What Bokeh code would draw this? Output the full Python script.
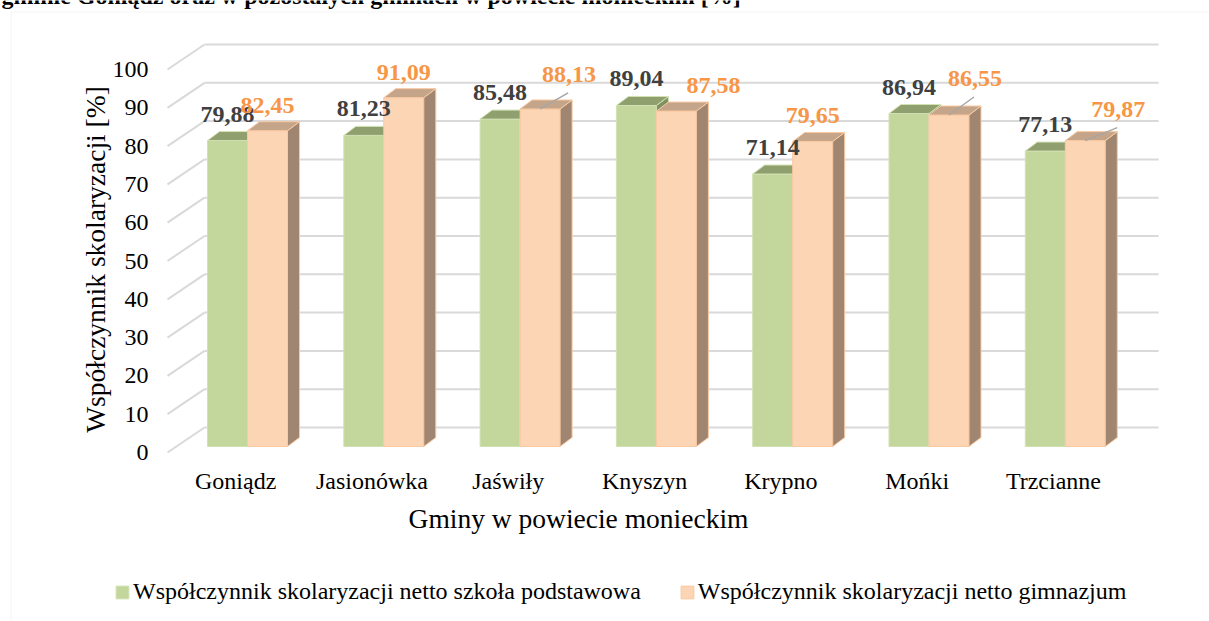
import math
from bokeh.plotting import figure
from bokeh.models import (Range1d, FixedTicker, Label, PolyAnnotation, Legend, LegendItem)
from bokeh.core.properties import value
from bokeh.embed import file_html
from bokeh.resources import INLINE

# ---------------- data ----------------
categories = ["Goniądz", "Jasionówka", "Jaświły", "Knyszyn", "Krypno", "Mońki", "Trzcianne"]
primary_school = [79.88, 81.23, 85.48, 89.04, 71.14, 86.94, 77.13]
gymnasium = [82.45, 91.09, 88.13, 87.58, 79.65, 86.55, 79.87]
y_ticks = [0, 10, 20, 30, 40, 50, 60, 70, 80, 90, 100]
series_names = ["Współczynnik skolaryzacji netto szkoła podstawowa",
                "Współczynnik skolaryzacji netto gimnazjum"]
title_text = "gminie Goniądz oraz w pozostałych gminach w powiecie monieckim [%]"
x_title = "Gminy w powiecie monieckim"
y_title = "Współczynnik skolaryzacji [%]"

# label adjustments for the orange data labels (pixels) and leader lines
orange_label_dx_px = [0, 0, 29, 37, 0, 26, 33]
orange_label_up_px = [0, 0, 9, 0, 0, 11, 6]
orange_leader = [False, False, True, False, False, True, True]

# ---------------- geometry (page pixels) ----------------
W, H = 1209, 621
AXIS_X, AXIS_Y = 150, 452                # y-axis position, baseline (value 0 on front plane)
PX0 = 167.0                              # front plane x of first category
CAT_PX = 136.3                           # pixels per category
UNIT_PX = 3.83                           # pixels per percent
TEXT_FIX = 9.5                           # renderer draws alphabetic baselines this much lower

def X(page_x): return (page_x - PX0) / CAT_PX
def Y(page_y): return (AXIS_Y - page_y) / UNIT_PX
def dx(px): return px / CAT_PX
def dy(px): return px / UNIT_PX

WALL_DX, WALL_DY = dx(37), dy(25)
GAP_L, BAR_W = dx(31), dx(40)
BASE_DX, BASE_DY = dx(9), dy(6)
TOP_DX, TOP_DY = dx(12), dy(9)

FONT = "Liberation Serif"
GRID = "#d9d9d9"

p = figure(width=W, height=H, x_range=Range1d(X(0), X(W)), y_range=Range1d(Y(H), Y(0)),
           output_backend="svg", toolbar_location=None,
           min_border=0, min_border_left=0, min_border_right=0, min_border_top=0,
           min_border_bottom=0,
           outline_line_color=None, background_fill_color="white", border_fill_color="white")
p.styles = {"position": "absolute", "left": "0px", "top": "0px"}
p.xgrid.visible = False
p.ygrid.visible = False

# ---------------- axes ----------------
ya = p.yaxis[0]
ya.fixed_location = X(AXIS_X)
ya.ticker = FixedTicker(ticks=y_ticks)
ya.axis_line_color = None
ya.major_tick_line_color = None
ya.minor_tick_line_color = None
ya.major_tick_out = 0
ya.major_tick_in = 0
ya.major_label_standoff = 2
ya.major_label_text_font = FONT
ya.major_label_text_font_size = "24px"
ya.major_label_text_color = "#000000"

xa = p.xaxis[0]
xa.fixed_location = 0
xa.ticker = FixedTicker(ticks=[i + 0.5 for i in range(len(categories))])
xa.major_label_overrides = {i + 0.5: c for i, c in enumerate(categories)}
xa.axis_line_color = None
xa.major_tick_line_color = None
xa.minor_tick_line_color = None
xa.major_tick_out = 0
xa.major_tick_in = 0
xa.major_label_standoff = 15
xa.major_label_text_font = FONT
xa.major_label_text_font_size = "24px"
xa.major_label_text_color = "#000000"

# ---------------- chart border and titles ----------------
p.add_layout(PolyAnnotation(xs=[X(10.5), X(10.5), X(1400), X(1400)],
                            ys=[Y(900), Y(11.5), Y(11.5), Y(900)],
                            fill_alpha=0, line_color=GRID, line_width=1))
p.add_layout(Label(x=X(1), y=Y(4.5 - TEXT_FIX), text=title_text, text_font=FONT,
                   text_font_style="bold", text_font_size="24px", text_color="#000000",
                   text_align="left", text_baseline="alphabetic"))
p.add_layout(Label(x=X(578), y=Y(518), text=x_title, text_font=FONT, text_font_size="27.5px",
                   text_color="#000000", text_align="center", text_baseline="middle"))
p.add_layout(Label(x=X(95), y=Y(259), text=y_title, angle=math.pi / 2, text_font=FONT,
                   text_font_size="27.5px", text_color="#000000", text_align="center",
                   text_baseline="middle"))

# ---------------- walls / gridlines ----------------
n = len(categories)
grid_xs, grid_ys = [], []
for v in y_ticks:
    grid_xs.append([WALL_DX, n + WALL_DX]); grid_ys.append([v + WALL_DY, v + WALL_DY])
    grid_xs.append([0, WALL_DX]); grid_ys.append([v, v + WALL_DY])
p.multi_line(grid_xs, grid_ys, line_color=GRID, line_width=2)

# ---------------- 3D bars ----------------
series = [primary_school, gymnasium]
front_cols = ["#c3d69b", "#fcd5b5"]
top_cols = ["#8fa06e", "#c5a58a"]
side_cols = ["#7f9160", "#a08670"]
edge_cols = ["#d2e1b3", "#f9c9a2"]

legend_renderers = []
for s, vals in enumerate(series):
    fx, fy, tx, ty, sx, sy = [], [], [], [], [], []
    for i, v in enumerate(vals):
        x0 = i + GAP_L + s * BAR_W + BASE_DX
        x1 = x0 + BAR_W
        b = BASE_DY
        t = BASE_DY + v
        fx.append([x0, x1, x1, x0]); fy.append([b, b, t, t])
        sx.append([x1, x1 + TOP_DX, x1 + TOP_DX, x1]); sy.append([b, b + TOP_DY, t + TOP_DY, t])
        tx.append([x0, x1, x1 + TOP_DX, x0 + TOP_DX]); ty.append([t, t, t + TOP_DY, t + TOP_DY])
    rf = p.patches(fx, fy, fill_color=front_cols[s], line_color=edge_cols[s], line_width=1)
    p.patches(sx, sy, fill_color=side_cols[s], line_color=edge_cols[s], line_width=1)
    p.patches(tx, ty, fill_color=top_cols[s], line_color=edge_cols[s], line_width=1)
    legend_renderers.append(rf)

# ---------------- data labels ----------------
def fmt(v):
    return f"{v:.2f}".replace(".", ",")

lab_x, lab_y, lab_t = [], [], []
for i, v in enumerate(primary_school):
    lab_x.append(i + GAP_L + BASE_DX + BAR_W / 2)
    lab_y.append(BASE_DY + v + dy(17 + TEXT_FIX))
    lab_t.append(fmt(v))
p.text(lab_x, lab_y, text=lab_t, text_align="center", text_baseline="alphabetic",
       text_font=value(FONT), text_font_style="bold", text_font_size="24px", text_color="#404040")

olab_x, olab_y, olab_t = [], [], []
lead_xs, lead_ys = [], []
for i, v in enumerate(gymnasium):
    cx = i + GAP_L + BASE_DX + BAR_W * 1.5
    lx = cx + dx(orange_label_dx_px[i])
    base = BASE_DY + v + dy(16 + orange_label_up_px[i])
    olab_x.append(lx); olab_y.append(base + dy(TEXT_FIX)); olab_t.append(fmt(v))
    if orange_leader[i]:
        lead_xs.append([cx, lx - dx(1)])
        lead_ys.append([BASE_DY + v, base - dy(9)])
p.multi_line(lead_xs, lead_ys, line_color="#a6a6a6", line_width=1.5)
p.text(olab_x, olab_y, text=olab_t, text_align="center", text_baseline="alphabetic",
       text_font=value(FONT), text_font_style="bold", text_font_size="24px", text_color="#f79646")

# ---------------- legend ----------------
legend = Legend(items=[LegendItem(label=series_names[k], renderers=[legend_renderers[k]])
                       for k in range(2)],
                location=(114, 16), orientation="horizontal",
                glyph_width=16, glyph_height=16, label_standoff=3, spacing=38,
                padding=0, margin=0, border_line_color=None, background_fill_alpha=0,
                label_text_font=FONT, label_text_font_size="24px", label_text_color="#000000")
p.add_layout(legend)

open("out.html", "w").write(file_html(p, INLINE))
